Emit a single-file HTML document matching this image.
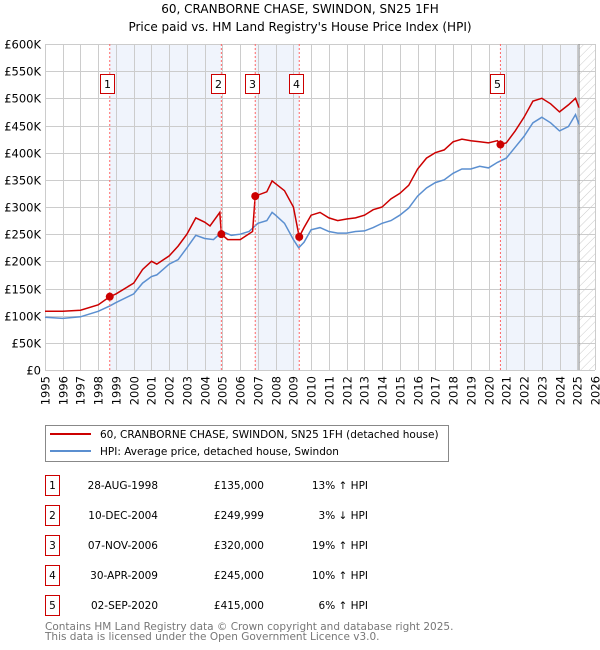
<!DOCTYPE html>
<html><head><meta charset="utf-8"><style>
body{margin:0;background:#fff;}
svg{display:block;font-family:"DejaVu Sans","Liberation Sans",sans-serif;}
</style></head><body>
<svg id="chart" width="600" height="650" xmlns="http://www.w3.org/2000/svg">
<defs><pattern id="hatch" width="6" height="6" patternUnits="userSpaceOnUse" patternTransform="rotate(45)"><line x1="0" y1="0" x2="0" y2="6" stroke="#ccc" stroke-width="1"/></pattern></defs>
<text x="300" y="13" text-anchor="middle" font-size="12">60, CRANBORNE CHASE, SWINDON, SN25 1FH</text>
<text x="300" y="31" text-anchor="middle" font-size="12">Price paid vs. HM Land Registry's House Price Index (HPI)</text>
<g id="shade"></g><g id="grid"></g><g id="axes"></g><g id="series"></g><g id="markers"></g>
<g>
<rect x="45.5" y="425.5" width="403" height="36" fill="#fff" stroke="#888"/>
<line x1="50" y1="434" x2="91" y2="434" stroke="#cc0000" stroke-width="2"/>
<text x="100" y="438" font-size="10.5">60, CRANBORNE CHASE, SWINDON, SN25 1FH (detached house)</text>
<line x1="50" y1="451" x2="91" y2="451" stroke="#5b8fd0" stroke-width="2"/>
<text x="100" y="455" font-size="10.5">HPI: Average price, detached house, Swindon</text>
</g>
<g id="table"></g>
<text x="45" y="630" font-size="10.5" fill="#777">Contains HM Land Registry data © Crown copyright and database right 2025.</text>
<text x="45" y="640" font-size="10.5" fill="#777">This data is licensed under the Open Government Licence v3.0.</text>
</svg>
<script>
const yTicks=[0,50000,100000,150000,200000,250000,300000,350000,400000,450000,500000,550000,600000];
const yTickLabels=["£0","£50K","£100K","£150K","£200K","£250K","£300K","£350K","£400K","£450K","£500K","£550K","£600K"];
const xYears=[1995,1996,1997,1998,1999,2000,2001,2002,2003,2004,2005,2006,2007,2008,2009,2010,2011,2012,2013,2014,2015,2016,2017,2018,2019,2020,2021,2022,2023,2024,2025,2026];
const hpiT=[1995,1996,1997,1998,1998.65,1999,2000,2000.5,2001,2001.3,2002,2002.5,2003,2003.5,2004,2004.5,2005,2005.5,2006,2006.5,2007,2007.5,2007.8,2008,2008.5,2009,2009.3,2009.6,2010,2010.5,2011,2011.5,2012,2012.5,2013,2013.5,2014,2014.5,2015,2015.5,2016,2016.5,2017,2017.5,2018,2018.5,2019,2019.5,2020,2020.5,2021,2021.5,2022,2022.5,2023,2023.5,2024,2024.5,2024.9,2025.1];
const hpiV=[97,95,98,108,118,124,140,160,172,175,195,203,225,248,242,240,255,248,250,255,270,275,290,285,270,240,225,235,258,262,255,252,252,255,256,262,270,275,285,298,320,335,345,350,362,370,370,375,372,382,390,410,430,455,465,455,440,448,470,452];
const priceT=[1995,1996,1997,1998,1998.65,1999,2000,2000.5,2001,2001.3,2002,2002.5,2003,2003.5,2004,2004.3,2004.85,2004.94,2005.3,2006,2006.7,2006.85,2007.5,2007.8,2008.5,2009,2009.33,2009.6,2010,2010.5,2011,2011.5,2012,2012.5,2013,2013.5,2014,2014.5,2015,2015.5,2016,2016.5,2017,2017.5,2018,2018.5,2019,2019.5,2020,2020.5,2020.67,2021,2021.5,2022,2022.5,2023,2023.5,2024,2024.5,2024.9,2025.1];
const priceV=[108,108,110,120,135,140,160,185,200,195,210,228,250,280,272,265,290,250,240,240,255,320,328,348,330,300,245,262,285,290,280,275,278,280,285,295,300,315,325,340,370,390,400,405,420,425,422,420,418,422,415,418,440,465,495,500,490,475,488,500,483];
const saleIds=["1","2","3","4","5"];
const saleT=[1998.65,2004.94,2006.85,2009.33,2020.67];
const saleV=[135000,249999,320000,245000,415000];
const saleDates=["28-AUG-1998","10-DEC-2004","07-NOV-2006","30-APR-2009","02-SEP-2020"];
const salePrices=["£135,000","£249,999","£320,000","£245,000","£415,000"];
const salePct=["13% ↑ HPI","3% ↓ HPI","19% ↑ HPI","10% ↑ HPI","6% ↑ HPI"];

const NS="http://www.w3.org/2000/svg";
const L=45,R=595,T=44,B=370,X0=1995,X1=2026,YMAX=600000,DATAEND=2025.1;
const sx=t=>L+(t-X0)/(X1-X0)*(R-L);
const sy=v=>B-v/YMAX*(B-T);
function mk(tag,attrs,parent){const e=document.createElementNS(NS,tag);for(const k in attrs)e.setAttribute(k,attrs[k]);parent.appendChild(e);return e;}
const g=id=>document.getElementById(id);

const shadePairs=[[0,1],[2,3],[4,-1]];
shadePairs.forEach(p=>{
  const a=sx(saleT[p[0]]),b=p[1]<0?sx(DATAEND):sx(saleT[p[1]]);
  const r=mk('rect',{x:a,y:T,width:b-a,height:B-T,fill:'#f0f4fc'},g('shade'));
  
  
});
const h=mk('rect',{x:sx(DATAEND),y:T,width:R-sx(DATAEND),height:B-T,fill:'url(#hatch)'},g('shade'));



yTicks.forEach((v,i)=>{
  const y=Math.round(sy(v))+0.5;
  const ln=mk('line',{x1:L,x2:R,y1:y,y2:y,stroke:'#cccccc'},g('grid'));
  
  
  const t=mk('text',{x:L-4,y:y+4,'text-anchor':'end','font-size':'11.5'},g('axes'));
  t.textContent=yTickLabels[i];
  
  
});
xYears.forEach(yr=>{
  const x=Math.round(sx(yr))+0.5;
  const ln=mk('line',{x1:x,x2:x,y1:T,y2:B,stroke:'#cccccc'},g('grid'));
  
  
  const t=mk('text',{x:0,y:0,'text-anchor':'end','font-size':'11.5',transform:`translate(${x+4},${B+6}) rotate(-90)`},g('axes'));
  t.textContent=yr;
  
  
});
const dl=mk('line',{x1:sx(DATAEND),x2:sx(DATAEND),y1:T,y2:B,stroke:'#888','stroke-width':1},g('grid'));



function path(ts,vs){return ts.map((t,i)=>(i?'L':'M')+sx(t).toFixed(1)+','+sy(vs[i]*1000).toFixed(1)).join(' ');}
const hp=mk('path',{d:path(hpiT,hpiV),fill:'none',stroke:'#5b8fd0','stroke-width':1.5},g('series'));


const pp=mk('path',{d:path(priceT,priceV),fill:'none',stroke:'#cc0000','stroke-width':1.5},g('series'));



saleT.forEach((t,i)=>{
  const x=sx(t);
  const vl=mk('line',{x1:x,x2:x,y1:T,y2:B,stroke:'#ff6666','stroke-dasharray':'2,2'},g('markers'));
  
  
  const bx=mk('rect',{x:Math.round(x-10)+0.5,y:74.5,width:14,height:19,fill:'#fff',stroke:'#cc0000'},g('markers'));
  
  
  const tx=mk('text',{x:Math.round(x-10)+7.5,y:88,'text-anchor':'middle','font-size':'11'},g('markers'));
  tx.textContent=saleIds[i];
  
  
  const c=mk('circle',{cx:x,cy:sy(saleV[i]),r:4,fill:'#cc0000'},g('markers'));
  
  
});

saleIds.forEach((id,i)=>{
  const y=475+i*30;
  const bx=mk('rect',{x:45.5,y:y+0.5,width:14,height:20,fill:'#fff',stroke:'#cc0000'},g('table'));
  
  
  const cols=[[52.5,'middle',id],[158,'end',saleDates[i]],[264,'end',salePrices[i]],[368,'end',salePct[i]]];
  cols.forEach(c=>{
    const t=mk('text',{x:c[0],y:y+14,'text-anchor':c[1],'font-size':'10.5'},g('table'));
    t.textContent=c[2];
    
    
  });
});
</script>
</body></html>
